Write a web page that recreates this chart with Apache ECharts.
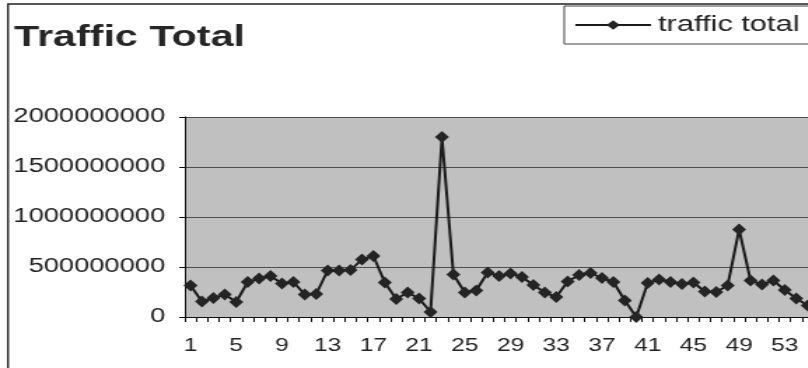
<!DOCTYPE html>
<html>
<head>
<meta charset="utf-8">
<script src="https://cdn.jsdelivr.net/npm/echarts@6/dist/echarts.min.js"></script>
<style>
  html, body { margin: 0; padding: 0; background: #fff; overflow: hidden; width: 808px; height: 368px; }
  /* the original chart is stretched sideways, so draw narrow and stretch */
  #trafficTotal { width: 582px; height: 368px; transform: scaleX(1.4); transform-origin: 0 0; }
</style>
</head>
<body>
<div id="trafficTotal"></div>
<script>
const categories = ['1','2','3','4','5','6','7','8','9','10','11','12','13','14','15','16','17','18','19','20',
  '21','22','23','24','25','26','27','28','29','30','31','32','33','34','35','36','37','38','39','40',
  '41','42','43','44','45','46','47','48','49','50','51','52','53','54','55'];

const trafficTotal = [
  315000000, 155000000, 190000000, 225000000, 150000000, 350000000, 385000000, 410000000, 335000000, 350000000,
  225000000, 230000000, 465000000, 465000000, 470000000, 575000000, 610000000, 345000000, 180000000, 245000000,
  185000000, 50000000, 1800000000, 425000000, 245000000, 265000000, 445000000, 410000000, 435000000, 400000000,
  320000000, 245000000, 200000000, 355000000, 420000000, 440000000, 390000000, 350000000, 165000000, 0,
  340000000, 375000000, 350000000, 330000000, 345000000, 255000000, 250000000, 315000000, 875000000, 365000000,
  325000000, 365000000, 270000000, 185000000, 115000000
];

const yMin = 0;
const yMax = 2000000000;
const yStep = 500000000;

const font = 'Liberation Sans, Arial, sans-serif';

const chartDom = document.getElementById('trafficTotal');
const myChart = echarts.init(chartDom);
const option = {
  animation: false,
  title: {
    text: 'Traffic Total',
    left: 10,
    top: 23,
    padding: 0,
    textStyle: {
      color: '#262626',
      fontFamily: font,
      fontWeight: 'bold',
      fontSize: 29.5
    }
  },
  legend: {
    data: ['traffic total'],
    left: 403,
    top: 6,
    padding: [8, 40, 8, 7],
    borderColor: '#444',
    borderWidth: 1,
    backgroundColor: '#fff',
    itemWidth: 54,
    itemHeight: 12,
    textStyle: {
      color: '#222',
      fontFamily: font,
      fontSize: 22
    }
  },
  graphic: [
    {
      type: 'rect',
      silent: true,
      shape: { x: 5.7, y: 4, width: 700, height: 500 },
      style: { fill: 'none', stroke: '#222', lineWidth: 1.4 }
    }
  ],
  grid: {
    left: 132,
    right: 1,
    top: 117,
    bottom: 51,
    show: true,
    backgroundColor: '#c0c0c0',
    borderWidth: 0
  },
  xAxis: {
    type: 'category',
    data: categories,
    boundaryGap: true,
    axisLine: { lineStyle: { color: '#111', width: 1 } },
    axisTick: { show: true, interval: 0, length: 5, lineStyle: { color: '#111' } },
    axisLabel: {
      interval: 3,
      margin: 20,
      color: '#222',
      fontFamily: font,
      fontSize: 17.5
    },
    splitLine: { show: false }
  },
  yAxis: {
    type: 'value',
    min: yMin,
    max: yMax,
    interval: yStep,
    axisLine: { show: true, lineStyle: { color: '#111', width: 1 } },
    axisTick: { show: true, length: 4, lineStyle: { color: '#111' } },
    axisLabel: {
      margin: 14,
      color: '#222',
      fontFamily: font,
      fontSize: 19.5,
      formatter: function (v) { return String(v); }
    },
    splitLine: { lineStyle: { color: '#4d4d4d', width: 1 } }
  },
  series: [
    {
      name: 'traffic total',
      type: 'line',
      data: trafficTotal,
      symbol: 'diamond',
      symbolSize: [10, 12],
      showAllSymbol: true,
      lineStyle: { color: '#1a1a1a', width: 2 },
      itemStyle: { color: '#242424' }
    }
  ]
};
myChart.setOption(option);
</script>
</body>
</html>
